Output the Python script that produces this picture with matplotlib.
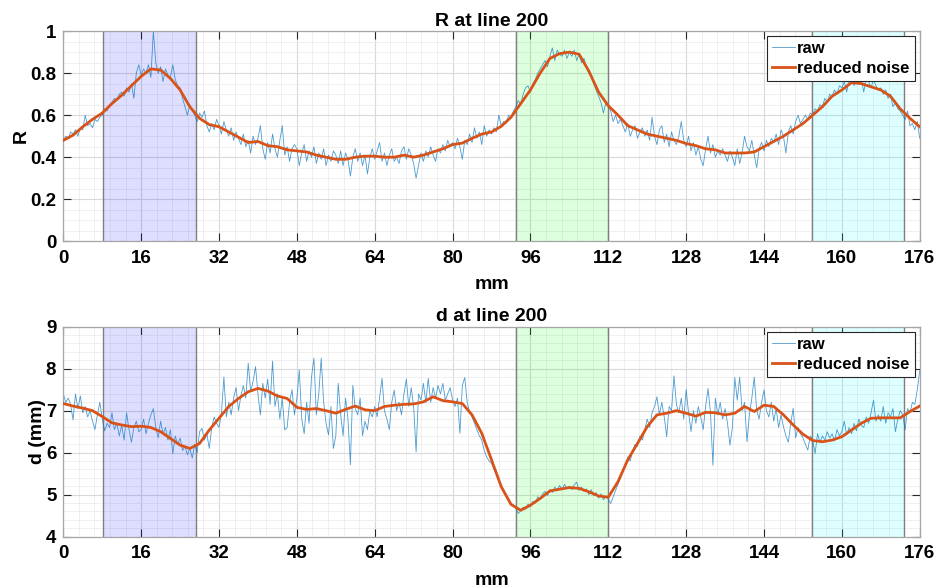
import numpy as np
import matplotlib
matplotlib.use("Agg")
import matplotlib.pyplot as plt
from matplotlib.ticker import MultipleLocator, FormatStrFormatter

# positions (mm)
x_raw = np.arange(0, 176.01, 0.5)
x_smooth = np.arange(0, 176.01, 2)

# shaded regions (mm)
regions = [(8.2, 27.2), (93.1, 112.0), (153.9, 172.7)]
region_colors = [(0.0, 0.0, 1.0), (0.0, 1.0, 0.0), (0.0, 1.0, 1.0)]

R_raw = [
    0.48, 0.50, 0.49, 0.52, 0.51, 0.53, 0.50, 0.54, 0.53, 0.60, 0.55, 0.56, 0.54, 0.58, 0.57, 0.59,
    0.60, 0.63, 0.62, 0.65, 0.66, 0.68, 0.67, 0.70, 0.71, 0.69, 0.73, 0.71, 0.75, 0.68, 0.80, 0.84,
    0.79, 0.82, 0.80, 0.84, 0.78, 1.00, 0.85, 0.80, 0.83, 0.76, 0.82, 0.79, 0.78, 0.84, 0.77, 0.74,
    0.73, 0.68, 0.64, 0.60, 0.65, 0.62, 0.60, 0.57, 0.61, 0.59, 0.62, 0.55, 0.52, 0.56, 0.53, 0.58,
    0.55, 0.51, 0.57, 0.53, 0.50, 0.54, 0.48, 0.52, 0.49, 0.46, 0.51, 0.45, 0.48, 0.42, 0.50, 0.46,
    0.49, 0.55, 0.44, 0.39, 0.47, 0.42, 0.51, 0.44, 0.40, 0.48, 0.55, 0.41, 0.45, 0.38, 0.44, 0.46,
    0.44, 0.36, 0.42, 0.46, 0.38, 0.43, 0.40, 0.45, 0.37, 0.42, 0.39, 0.44, 0.36, 0.41, 0.38, 0.43,
    0.41, 0.37, 0.43, 0.36, 0.42, 0.39, 0.31, 0.40, 0.44, 0.38, 0.42, 0.36, 0.41, 0.32, 0.40, 0.44,
    0.39, 0.43, 0.47, 0.38, 0.42, 0.36, 0.41, 0.44, 0.38, 0.40, 0.37, 0.43, 0.45, 0.39, 0.44, 0.41,
    0.37, 0.30, 0.36, 0.42, 0.38, 0.43, 0.40, 0.45, 0.41, 0.38, 0.44, 0.42, 0.46, 0.43, 0.48, 0.45,
    0.47, 0.44, 0.49, 0.45, 0.39, 0.48, 0.46, 0.51, 0.47, 0.54, 0.49, 0.52, 0.46, 0.55, 0.50, 0.53,
    0.51, 0.54, 0.52, 0.60, 0.55, 0.57, 0.56, 0.60, 0.59, 0.62, 0.64, 0.67, 0.65, 0.70, 0.73, 0.74,
    0.71, 0.75, 0.77, 0.80, 0.82, 0.84, 0.86, 0.83, 0.88, 0.92, 0.86, 0.91, 0.89, 0.88, 0.91, 0.87,
    0.90, 0.88, 0.91, 0.86, 0.89, 0.85, 0.87, 0.83, 0.80, 0.78, 0.75, 0.72, 0.69, 0.66, 0.61, 0.66,
    0.64, 0.62, 0.57, 0.60, 0.56, 0.58, 0.55, 0.52, 0.56, 0.50, 0.53, 0.55, 0.49, 0.52, 0.54, 0.50,
    0.53, 0.48, 0.59, 0.50, 0.46, 0.53, 0.55, 0.47, 0.51, 0.45, 0.52, 0.48, 0.46, 0.50, 0.57, 0.48,
    0.45, 0.50, 0.43, 0.47, 0.41, 0.45, 0.39, 0.36, 0.44, 0.50, 0.42, 0.46, 0.40, 0.43, 0.41, 0.44,
    0.41, 0.38, 0.43, 0.40, 0.36, 0.44, 0.37, 0.42, 0.50, 0.45, 0.43, 0.48, 0.41, 0.35, 0.44, 0.47,
    0.43, 0.48, 0.45, 0.49, 0.47, 0.51, 0.46, 0.53, 0.50, 0.42, 0.52, 0.55, 0.51, 0.57, 0.60, 0.56,
    0.58, 0.60, 0.58, 0.61, 0.60, 0.63, 0.62, 0.65, 0.64, 0.68, 0.66, 0.70, 0.69, 0.72, 0.70, 0.74,
    0.73, 0.76, 0.71, 0.78, 0.77, 0.74, 0.79, 0.75, 0.77, 0.71, 0.78, 0.76, 0.73, 0.77, 0.74, 0.72,
    0.73, 0.70, 0.72, 0.68, 0.70, 0.64, 0.66, 0.63, 0.62, 0.60, 0.58, 0.62, 0.55, 0.56, 0.53, 0.57,
    0.49,
]

R_smooth = [
    0.48, 0.505, 0.545, 0.58, 0.61, 0.655, 0.695, 0.74, 0.785, 0.82, 0.815, 0.775, 0.72, 0.64, 0.585,
    0.555, 0.545, 0.52, 0.495, 0.47, 0.475, 0.455, 0.45, 0.435, 0.43, 0.425, 0.41, 0.40, 0.39, 0.39,
    0.40, 0.405, 0.405, 0.40, 0.40, 0.41, 0.40, 0.41, 0.425, 0.44, 0.46, 0.467, 0.49, 0.51, 0.52,
    0.547, 0.59, 0.655, 0.72, 0.80, 0.87, 0.893, 0.90, 0.89, 0.81, 0.71, 0.645, 0.60, 0.55, 0.53,
    0.51, 0.50, 0.49, 0.48, 0.465, 0.455, 0.44, 0.435, 0.42, 0.42, 0.42, 0.425, 0.45, 0.475, 0.50,
    0.53, 0.56, 0.60, 0.64, 0.69, 0.72, 0.755, 0.75, 0.735, 0.72, 0.69, 0.63, 0.585, 0.545,
]

d_raw = [
    7.40, 7.20, 7.30, 7.15, 6.78, 7.40, 7.05, 7.35, 6.95, 7.10, 6.85, 7.00, 6.75, 6.55, 6.90, 7.20,
    6.80, 6.52, 6.70, 6.60, 6.95, 6.55, 6.70, 6.40, 6.65, 6.30, 6.95, 6.55, 6.25, 6.60, 6.75, 6.50,
    6.55, 6.80, 6.45, 6.70, 6.90, 7.05, 6.60, 6.35, 6.75, 6.45, 6.60, 6.30, 6.55, 5.98, 6.40, 6.20,
    6.35, 6.05, 6.15, 5.95, 6.10, 5.87, 6.20, 6.00, 6.50, 6.58, 6.30, 6.45, 6.10, 6.60, 6.85, 6.70,
    6.60, 6.95, 7.80, 6.85, 7.20, 6.90, 7.30, 7.55, 7.00, 7.35, 7.60, 7.30, 8.13, 7.45, 7.70, 8.05,
    7.40, 6.90, 7.65, 7.30, 7.75, 7.15, 8.18, 7.10, 7.40, 6.80, 7.30, 6.54, 6.60, 7.20, 7.50, 6.90,
    7.30, 7.97, 6.80, 6.45, 7.20, 6.70, 7.80, 8.25, 6.90, 7.40, 8.25, 7.20, 6.70, 6.42, 7.10, 6.10,
    6.40, 7.65, 6.90, 6.40, 7.30, 6.80, 5.71, 7.60, 7.05, 6.90, 7.30, 6.40, 6.75, 6.55, 7.00, 6.85,
    7.10, 6.85, 7.30, 7.77, 7.00, 6.80, 6.55, 7.20, 7.49, 7.00, 7.20, 6.90, 7.40, 7.75, 7.10, 7.55,
    7.10, 6.02, 7.40, 7.25, 7.65, 7.20, 7.77, 7.20, 7.55, 7.30, 7.60, 7.40, 7.65, 7.25, 7.40, 7.55,
    7.25, 7.10, 7.30, 6.46, 7.60, 7.79, 7.20, 6.95, 6.85, 6.70, 6.55, 6.40, 6.30, 6.05, 5.90, 5.80,
    5.75, 5.60, 5.48, 5.35, 5.22, 5.10, 4.98, 4.88, 4.80, 4.72, 4.68, 4.55, 4.62, 4.70, 4.65, 4.78,
    4.72, 4.84, 4.80, 4.95, 4.88, 5.02, 5.08, 4.98, 5.12, 5.05, 5.18, 5.10, 5.22, 5.12, 5.25, 5.15,
    5.20, 5.12, 5.24, 5.30, 5.10, 5.18, 5.08, 5.14, 5.00, 5.12, 4.98, 5.05, 4.92, 5.02, 4.88, 4.96,
    4.90, 4.79, 4.95, 5.10, 5.25, 5.40, 5.55, 5.70, 5.90, 5.80, 6.05, 6.20, 6.15, 6.40, 6.30, 6.55,
    6.80, 6.60, 6.95, 7.10, 7.33, 6.90, 7.20, 6.85, 6.38, 7.10, 7.00, 7.83, 7.15, 6.95, 7.30, 6.80,
    7.50, 6.95, 6.50, 7.00, 6.70, 7.10, 6.85, 6.55, 7.10, 7.53, 6.95, 5.70, 7.30, 6.90, 7.20, 6.80,
    7.05, 6.70, 6.18, 6.60, 7.79, 7.25, 7.80, 7.00, 7.20, 6.26, 6.90, 7.30, 7.80, 7.00, 6.80, 7.20,
    7.49, 7.00, 6.85, 7.20, 6.75, 7.05, 6.60, 6.90, 6.62, 6.40, 6.25, 6.70, 7.06, 6.35, 6.60, 6.45,
    6.35, 6.20, 6.06, 6.40, 6.30, 5.98, 6.45, 6.25, 6.40, 6.30, 6.50, 6.35, 6.45, 6.28, 6.55, 6.40,
    6.50, 6.75, 6.42, 6.60, 6.45, 6.70, 6.52, 6.80, 6.65, 6.60, 6.85, 6.70, 6.95, 7.25, 6.75, 6.90,
    6.75, 7.10, 6.70, 6.95, 6.85, 7.05, 6.50, 6.80, 7.00, 6.90, 6.54, 7.05, 6.95, 7.20, 7.15, 7.50,
    7.95,
]

d_smooth = [
    7.17, 7.11, 7.06, 7.00, 6.86, 6.71, 6.66, 6.62, 6.63, 6.60, 6.50, 6.34, 6.18, 6.10, 6.22,
    6.54, 6.82, 7.10, 7.29, 7.45, 7.53, 7.47, 7.35, 7.29, 7.08, 7.03, 7.05, 7.00, 6.94, 7.03,
    7.11, 7.02, 7.00, 7.10, 7.13, 7.15, 7.16, 7.21, 7.33, 7.24, 7.21, 7.17, 6.90, 6.46, 5.83,
    5.19, 4.77, 4.63, 4.75, 4.91, 5.09, 5.13, 5.17, 5.15, 5.07, 4.97, 4.94, 5.31, 5.83, 6.22,
    6.62, 6.90, 6.94, 7.00, 6.94, 6.87, 6.96, 6.95, 6.90, 6.94, 7.10, 6.98, 7.13, 7.10, 6.90,
    6.66, 6.44, 6.29, 6.26, 6.30, 6.38, 6.54, 6.70, 6.82, 6.83, 6.83, 6.83, 6.98, 7.11,
]

raw_color = (0.0, 0.447, 0.741)
smooth_color = (0.85, 0.325, 0.098)
box_color = (0.15, 0.15, 0.15)

plt.rcParams['font.family'] = ['Liberation Sans', 'DejaVu Sans']
plt.rcParams['font.weight'] = 'bold'
plt.rcParams['font.size'] = 13

fig = plt.figure(figsize=(9.38, 5.87), dpi=100)
ax1 = fig.add_axes([0.0675, 0.589, 0.913, 0.358])
ax2 = fig.add_axes([0.0675, 0.0857, 0.913, 0.3578])


def style_axes(ax, ylim, ymajor, yminor, title, ylabel):
    ax.set_xlim(0, 176)
    ax.set_ylim(*ylim)
    ax.xaxis.set_major_locator(MultipleLocator(16))
    ax.xaxis.set_minor_locator(MultipleLocator(3.2))
    ax.yaxis.set_major_locator(MultipleLocator(ymajor))
    ax.yaxis.set_minor_locator(MultipleLocator(yminor))
    ax.yaxis.set_major_formatter(FormatStrFormatter('%g'))
    ax.grid(which='major', color='#d9d9d9', linewidth=0.8)
    ax.grid(which='minor', color='#ececec', linewidth=0.6)
    ax.set_axisbelow(True)
    ax.tick_params(which='major', direction='in', length=6, width=0.8, color=box_color,
                   top=True, right=True, labelsize=13.5)
    ax.tick_params(axis='x', which='major', pad=6)
    ax.tick_params(axis='y', which='major', pad=5)
    ax.tick_params(which='minor', length=0)
    for lbl in ax.get_xticklabels() + ax.get_yticklabels():
        lbl.set_fontweight('bold')
    for sp in ax.spines.values():
        sp.set_color('#a6a6a6')
        sp.set_linewidth(0.9)
    ax.set_title(title, fontsize=14, fontweight='bold', pad=4)
    ax.set_ylabel(ylabel, fontsize=14, fontweight='bold', labelpad=0)
    ax.set_xlabel('mm', fontsize=14, fontweight='bold', labelpad=7)


def draw_regions(ax):
    for (a, b), c in zip(regions, region_colors):
        ax.axvspan(a, b, facecolor=c, alpha=0.13, edgecolor='none', zorder=1)
        ax.axvline(a, color='#7f7f7f', linewidth=1.0, zorder=1.5)
        ax.axvline(b, color='#7f7f7f', linewidth=1.0, zorder=1.5)


for ax, raw, smooth, ylim, ymaj, ymin, title, ylabel in [
    (ax1, R_raw, R_smooth, (0, 1), 0.2, 0.05, 'R at line 200', 'R'),
    (ax2, d_raw, d_smooth, (4, 9), 1, 0.2, 'd at line 200', 'd (mm)'),
]:
    draw_regions(ax)
    ax.plot(x_raw, raw, color=raw_color, linewidth=0.6, alpha=0.7, label='raw', zorder=2)
    ax.plot(x_smooth, smooth, color=smooth_color, linewidth=2.0, label='reduced noise', zorder=3)
    style_axes(ax, ylim, ymaj, ymin, title, ylabel)
    leg = ax.legend(loc='upper right', fancybox=False, framealpha=1.0, edgecolor=box_color,
                    borderaxespad=0.3, handlelength=1.4, handletextpad=0.15, borderpad=0.3,
                    labelspacing=0.3, prop={'weight': 'bold', 'size': 12})
    leg.get_frame().set_linewidth(0.8)

fig.savefig('out.png', dpi=100)
